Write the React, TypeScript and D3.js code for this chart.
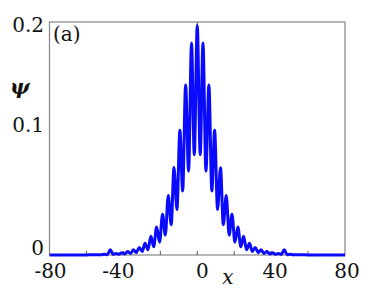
import React, { useEffect, useRef } from "react";
import * as d3 from "d3";

// wave profile (peaks and troughs)
const xs = [
  -80, -70, -60, -55, -52, -50.3, -48.7, -47.1, -45.5, -44.0, -42.4, -40.8, -39.3, -37.7, -36.1, -34.6, -33.0,
  -31.4, -29.8, -28.3, -26.7, -25.1, -23.6, -22.0, -20.4, -18.8, -17.3, -15.7, -14.1, -12.6, -11.0, -9.4,
  -7.9, -6.3, -4.7, -3.1, -1.6, 0, 1.6, 3.1, 4.7, 6.3, 7.9, 9.4, 11.0, 12.6, 14.1, 15.7, 17.3, 18.8, 20.4,
  22.0, 23.6, 25.1, 26.7, 28.3, 29.8, 31.4, 33.0, 34.6, 36.1, 37.7, 39.3, 40.8, 42.4, 44.0, 45.5, 47.1,
  48.7, 50.3, 52, 55, 60, 70, 80,
];
const psi = [
  0, 0, 0.0001, 0.0002, 0.0002, 0.0007, 0.0003, 0.0045, 0.0005, 0.0013, 0.0006, 0.002, 0.0009, 0.003, 0.0013, 0.0045, 0.002,
  0.0065, 0.003, 0.01, 0.0045, 0.016, 0.007, 0.024, 0.011, 0.035, 0.017, 0.051, 0.026, 0.075, 0.039, 0.107,
  0.055, 0.146, 0.072, 0.182, 0.086, 0.197, 0.086, 0.182, 0.072, 0.146, 0.055, 0.107, 0.039, 0.075, 0.026, 0.051, 0.017, 0.035, 0.011,
  0.024, 0.007, 0.016, 0.0045, 0.01, 0.003, 0.0065, 0.002, 0.0045, 0.0013, 0.003, 0.0009, 0.002, 0.0006, 0.0013, 0.0005, 0.0045,
  0.0003, 0.0007, 0.0002, 0.0002, 0.0001, 0, 0,
];

// axis ticks
const xTickLabels = [-80, -40, 0, 40, 80];
const xTickMarks = [-60, -40, -20, 0, 20, 40, 60];
const yTickLabels = [0, 0.1, 0.2];

export default function App() {
  const svgRef = useRef<SVGSVGElement>(null);

  useEffect(() => {
    const svg = d3.select(svgRef.current);
    svg.selectAll("*").remove();

    const width = 382;
    const height = 288;
    const margin = { top: 22, right: 37, bottom: 33, left: 49.5 };
    const font = "DejaVu Serif";

    svg.attr("width", width).attr("height", height)
      .attr("font-family", font);

    const x = d3.scaleLinear().domain([-80, 80]).range([margin.left, width - margin.right]);
    const y = d3.scaleLinear().domain([0, 0.2]).range([height - margin.bottom, margin.top]);

    // frame
    svg.append("rect")
      .attr("x", x(-80))
      .attr("y", y(0.2))
      .attr("width", x(80) - x(-80))
      .attr("height", y(0) - y(0.2))
      .attr("fill", "none")
      .attr("stroke", "#858585")
      .attr("stroke-width", 1.2);

    // small inward ticks
    svg.selectAll(".tb")
      .data(xTickMarks)
      .join("line")
      .attr("x1", (d) => x(d))
      .attr("x2", (d) => x(d))
      .attr("y1", y(0))
      .attr("y2", y(0) - 4)
      .attr("stroke", "#555")
      .attr("stroke-width", 1);
    svg.append("line")
      .attr("x1", x(0))
      .attr("x2", x(0))
      .attr("y1", y(0.2))
      .attr("y2", y(0.2) + 4)
      .attr("stroke", "#555")
      .attr("stroke-width", 1);

    // curve
    svg.append("path")
      .datum(xs.map((v, i) => [v, psi[i]] as [number, number]))
      .attr("fill", "none")
      .attr("stroke", "#0a0aff")
      .attr("stroke-width", 3)
      .attr("stroke-linejoin", "round")
      .attr("d", d3.line<[number, number]>()
        .x((d) => x(d[0]))
        .y((d) => y(d[1]))
        .curve(d3.curveMonotoneX));

    // x tick labels
    const xShift: Record<number, number> = { "-80": 1, "-40": -5, "0": 5, "40": 4, "80": 2 };
    svg.selectAll(".xl")
      .data(xTickLabels)
      .join("text")
      .attr("x", (d) => x(d) + (xShift[d] || 0))
      .attr("y", 278)
      .attr("text-anchor", "middle")
      .attr("font-size", 20)
      .attr("fill", "#111")
      .text((d) => String(d));

    // y tick labels
    const yShift: Record<string, number> = { "0": 0, "0.1": -6.5, "0.2": 10 };
    svg.selectAll(".yl")
      .data(yTickLabels)
      .join("text")
      .attr("x", 44)
      .attr("y", (d) => y(d) + (yShift[String(d)] || 0))
      .attr("text-anchor", "end")
      .attr("font-size", 20)
      .attr("fill", "#111")
      .text((d) => String(d));

    // axis labels
    svg.append("text")
      .attr("x", 228)
      .attr("y", 284)
      .attr("text-anchor", "middle")
      .attr("font-style", "italic")
      .attr("font-size", 20)
      .attr("fill", "#111")
      .text("x");

    svg.append("text")
      .attr("x", 20)
      .attr("y", 94)
      .attr("text-anchor", "middle")
      .attr("font-style", "italic")
      .attr("font-weight", "bold")
      .attr("font-size", 21)
      .attr("fill", "#111")
      .text("ψ");

    // panel tag
    svg.append("text")
      .attr("x", 53)
      .attr("y", 41)
      .attr("font-size", 20)
      .attr("fill", "#111")
      .text("(a)");
  }, []);

  return (
    <div style={{ position: "absolute", left: 0, top: 0 }}>
      <svg ref={svgRef} style={{ display: "block" }}></svg>
    </div>
  );
}
